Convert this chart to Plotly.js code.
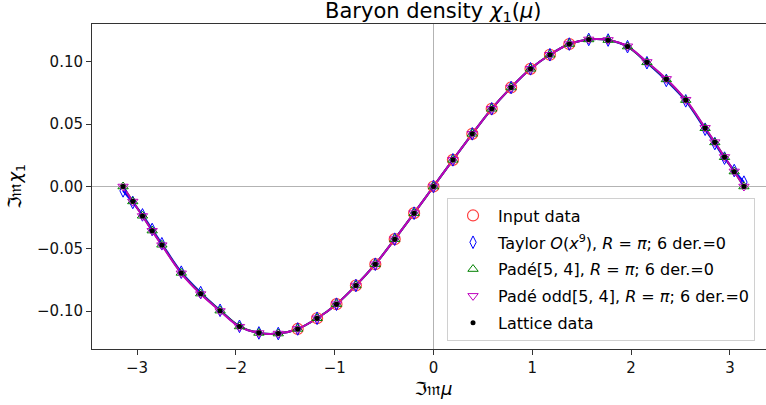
<!DOCTYPE html>
<html>
<head>
<meta charset="utf-8">
<script src="https://cdn.plot.ly/plotly-3.0.1.min.js"></script>
<style>
html,body{margin:0;padding:0;overflow:hidden;background:#fff;}
#plot{width:790px;height:405px;}
</style>
</head>
<body>
<div id="plot"></div>
<script>
// Im(mu) sample positions
const mu = [-3.1416,-3.0434,-2.9452,-2.8471,-2.7489,-2.5525,-2.3562,-2.1598,-1.9635,-1.7671,-1.5708,-1.3744,-1.1781,-0.9817,-0.7854,-0.5890,-0.3927,-0.1963,0,
            0.1963,0.3927,0.5890,0.7854,0.9817,1.1781,1.3744,1.5708,1.7671,1.9635,2.1598,2.3562,2.5525,2.7489,2.8471,2.9452,3.0434,3.1416];
// Lattice data Im chi_1
const lattice = [0,-0.0119,-0.0236,-0.0355,-0.0470,-0.0695,-0.0862,-0.0998,-0.1125,-0.1175,-0.1180,-0.1144,-0.1058,-0.0945,-0.0795,-0.0624,-0.0423,-0.0214,0,
                 0.0214,0.0423,0.0624,0.0795,0.0945,0.1058,0.1144,0.1180,0.1175,0.1125,0.0998,0.0862,0.0695,0.0470,0.0355,0.0236,0.0119,0];
const latticeErr = [0.0015,0.0015,0.0015,0.0015,0.0015,0.0015,0.0015,0.0015,0.0015,0.0015,0.0015,0.0012,0.0012,0.0012,0.0012,0.0010,0.0010,0.0008,0.0005,
                    0.0008,0.0010,0.0010,0.0012,0.0012,0.0012,0.0012,0.0015,0.0015,0.0015,0.0015,0.0015,0.0015,0.0015,0.0015,0.0015,0.0015,0.0015];
// Input data (subset used for the fits)
const muInput = [-1.3744,-1.1781,-0.9817,-0.7854,-0.5890,-0.3927,-0.1963,0,0.1963,0.3927,0.5890,0.7854,0.9817,1.1781,1.3744];
const input = [-0.1144,-0.1058,-0.0945,-0.0795,-0.0624,-0.0423,-0.0214,0,0.0214,0.0423,0.0624,0.0795,0.0945,0.1058,0.1144];
// Taylor O(x^9)
const taylor = [-0.0035,-0.0128,-0.0228,-0.0345,-0.0460,-0.0688,-0.0852,-0.0994,-0.1123,-0.1176,-0.1181,-0.1144,-0.1058,-0.0945,-0.0795,-0.0624,-0.0423,-0.0214,0,
                0.0214,0.0423,0.0624,0.0795,0.0945,0.1058,0.1144,0.1181,0.1176,0.1123,0.0994,0.0852,0.0688,0.0460,0.0345,0.0228,0.0128,0.0035];
// Pade[5,4]
const pade = [0,-0.0120,-0.0235,-0.0354,-0.0468,-0.0694,-0.0860,-0.0997,-0.1124,-0.1176,-0.1181,-0.1144,-0.1058,-0.0945,-0.0795,-0.0624,-0.0423,-0.0214,0,
              0.0214,0.0423,0.0624,0.0795,0.0945,0.1058,0.1144,0.1181,0.1176,0.1124,0.0997,0.0860,0.0694,0.0468,0.0354,0.0235,0.0120,0];
// Pade odd[5,4]
const padeOdd = [0,-0.0121,-0.0237,-0.0356,-0.0471,-0.0697,-0.0864,-0.1000,-0.1126,-0.1177,-0.1181,-0.1144,-0.1058,-0.0945,-0.0795,-0.0624,-0.0423,-0.0214,0,
                 0.0214,0.0423,0.0624,0.0795,0.0945,0.1058,0.1144,0.1181,0.1177,0.1126,0.1000,0.0864,0.0697,0.0471,0.0356,0.0237,0.0121,0];
const yTicks = [-0.10,-0.05,0.00,0.05,0.10];
const xTicks = [-3,-2,-1,0,1,2,3];

const FONT = 'DejaVu Sans, sans-serif';
const traces = [
  {x: mu, y: taylor, mode:'lines', line:{color:'#0000ff', width:2, shape:'spline'}, showlegend:false, hoverinfo:'skip'},
  {x: mu, y: pade, mode:'lines', line:{color:'#008000', width:2, shape:'spline'}, showlegend:false, hoverinfo:'skip'},
  {x: mu, y: padeOdd, mode:'lines', line:{color:'#bf00bf', width:2, shape:'spline'}, showlegend:false, hoverinfo:'skip'},
  {x: muInput, y: input, mode:'markers', name:'Input data', legendgroup:'a',
   marker:{symbol:'circle-open', size:11, color:'#ff4040', line:{width:1.2}}},
  {x: mu, y: taylor, mode:'markers', name:'Taylor <i>O</i>(<i>x</i><sup>9</sup>), <i>R</i> = <i>π</i>; 6 der.=0', legendgroup:'b',
   marker:{symbol:'diamond-tall-open', size:9, color:'#0000ff', line:{width:1}}},
  {x: mu, y: pade, mode:'markers', name:'Padé[5, 4], <i>R</i> = <i>π</i>; 6 der.=0', legendgroup:'c',
   marker:{symbol:'triangle-up-open', size:9, color:'#008000', line:{width:1}}},
  {x: mu, y: padeOdd, mode:'markers', name:'Padé odd[5, 4], <i>R</i> = <i>π</i>; 6 der.=0', legendgroup:'d',
   marker:{symbol:'triangle-down-open', size:9, color:'#bf00bf', line:{width:1}}},
  {x: mu, y: lattice, mode:'markers', name:'Lattice data', legendgroup:'e',
   marker:{symbol:'circle', size:5, color:'#000000'},
   error_y:{type:'data', array: latticeErr, visible:true, color:'#000000', thickness:1.2, width:0}}
];

const layout = {
  width: 790, height: 405,
  margin: {l:92, r:15, t:24, b:56},
  paper_bgcolor:'#ffffff', plot_bgcolor:'#ffffff',
  font: {family: FONT, size: 15, color:'#000000'},
  title: {text:'Baryon density <i>χ</i><sub>1</sub>(<i>μ</i>)', font:{family:FONT, size:21, color:'#000'},
          x: 0.5485, xanchor:'center', xref:'container', y: 1, yanchor:'bottom', yref:'paper', pad:{b:6}},
  xaxis: {range:[-3.456, 3.456], tickvals: xTicks, ticktext: xTicks.map(v => v<0 ? '\u2212'+Math.abs(v) : String(v)),
          ticks:'outside', ticklen:5, tickcolor:'#333', tickwidth:1,
          showline:true, linecolor:'#333', linewidth:1, mirror:true,
          showgrid:false, zeroline:true, zerolinecolor:'#b3b3b3', zerolinewidth:1.2,
          tickfont:{family:FONT, size:15, color:'#111'},
          title:{text:'ℑ𝔪<i>μ</i>', font:{family:FONT, size:18, color:'#000'}, standoff:6}},
  yaxis: {range:[-0.1305, 0.1305], tickvals: yTicks, ticktext: yTicks.map(v => (v<0?'\u2212':'')+Math.abs(v).toFixed(2)),
          ticks:'outside', ticklen:5, tickcolor:'#333', tickwidth:1,
          showline:true, linecolor:'#333', linewidth:1, mirror:true,
          showgrid:false, zeroline:true, zerolinecolor:'#b3b3b3', zerolinewidth:1.2,
          tickfont:{family:FONT, size:15, color:'#111'},
          title:{text:'ℑ𝔪<i>χ</i><sub>1</sub>', font:{family:FONT, size:18, color:'#000'}, standoff:10}},
  legend: {x:0.5198, xanchor:'left', y:0.026, yanchor:'bottom', xref:'paper', yref:'paper',
           bgcolor:'rgba(255,255,255,0.8)', bordercolor:'#d0d0d0', borderwidth:1, itemwidth:40,
           font:{family:FONT, size:16, color:'#000'}, traceorder:'grouped', tracegroupgap:3},
  showlegend: true
};
Plotly.newPlot('plot', traces, layout, {displayModeBar:false, staticPlot:true});
</script>
</body>
</html>
